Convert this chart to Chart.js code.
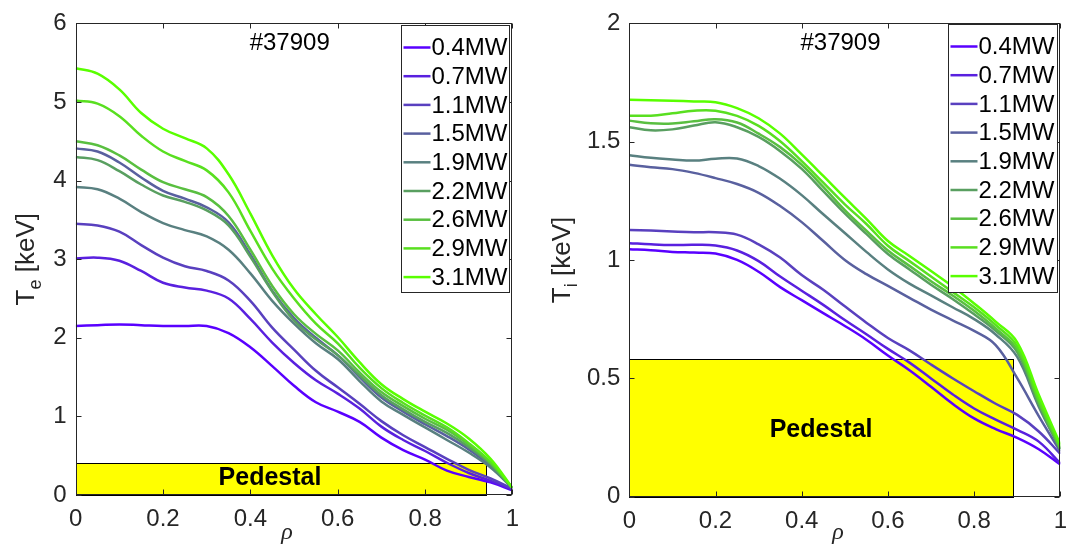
<!DOCTYPE html>
<html>
<head>
<meta charset="utf-8">
<title>Te / Ti profiles #37909</title>
<script src="https://cdn.jsdelivr.net/npm/chart.js@4.4.1/dist/chart.umd.min.js"></script>
<style>
  body { margin: 0; background: #fff; width: 1077px; height: 544px; position: relative; overflow: hidden; }
  canvas { position: absolute; top: 0; }
</style>
</head>
<body>
<canvas id="teChart" width="540" height="544" style="left:0"></canvas>
<canvas id="tiChart" width="537" height="544" style="left:540px"></canvas>
<script>
// normalised radius
const rho = [0, 0.05, 0.1, 0.15, 0.2, 0.25, 0.3, 0.35, 0.4, 0.45, 0.5, 0.55, 0.6, 0.65, 0.7, 0.75, 0.8, 0.85, 0.9, 0.95, 1];
const powerLabels = ['0.4MW', '0.7MW', '1.1MW', '1.5MW', '1.9MW', '2.2MW', '2.6MW', '2.9MW', '3.1MW'];

// electron temperature [keV]
const te04 = [2.15, 2.16, 2.17, 2.16, 2.15, 2.15, 2.15, 2.06, 1.88, 1.64, 1.39, 1.18, 1.06, 0.93, 0.73, 0.57, 0.45, 0.31, 0.23, 0.16, 0.06];
const te07 = [3.01, 3.02, 2.98, 2.85, 2.70, 2.64, 2.60, 2.50, 2.24, 1.94, 1.68, 1.46, 1.29, 1.10, 0.87, 0.70, 0.56, 0.41, 0.28, 0.18, 0.07];
const te11 = [3.45, 3.43, 3.35, 3.18, 3.02, 2.91, 2.85, 2.73, 2.47, 2.13, 1.85, 1.58, 1.37, 1.16, 0.94, 0.76, 0.61, 0.46, 0.32, 0.21, 0.08];
const te15 = [4.41, 4.37, 4.23, 4.04, 3.87, 3.77, 3.66, 3.47, 3.06, 2.60, 2.25, 2.00, 1.78, 1.50, 1.24, 1.06, 0.90, 0.75, 0.58, 0.37, 0.09];
const te19 = [3.92, 3.89, 3.77, 3.60, 3.46, 3.37, 3.29, 3.12, 2.82, 2.47, 2.18, 1.93, 1.73, 1.45, 1.19, 1.02, 0.86, 0.70, 0.54, 0.35, 0.09];
const te22 = [4.30, 4.26, 4.12, 3.95, 3.81, 3.73, 3.62, 3.43, 3.03, 2.59, 2.22, 1.98, 1.78, 1.52, 1.27, 1.09, 0.93, 0.79, 0.61, 0.39, 0.09];
const te26 = [4.50, 4.45, 4.32, 4.14, 3.98, 3.89, 3.79, 3.55, 3.12, 2.66, 2.30, 2.05, 1.84, 1.56, 1.31, 1.13, 0.97, 0.83, 0.64, 0.41, 0.09];
const te29 = [5.02, 4.98, 4.82, 4.57, 4.37, 4.25, 4.13, 3.85, 3.36, 2.88, 2.50, 2.18, 1.93, 1.62, 1.36, 1.17, 1.01, 0.86, 0.66, 0.42, 0.09];
const te31 = [5.43, 5.36, 5.16, 4.86, 4.66, 4.54, 4.41, 4.08, 3.58, 3.05, 2.62, 2.30, 2.01, 1.69, 1.41, 1.22, 1.06, 0.91, 0.72, 0.46, 0.09];

// ion temperature [keV]
const ti04 = [1.045, 1.041, 1.034, 1.031, 1.027, 1.000, 0.950, 0.885, 0.830, 0.775, 0.721, 0.663, 0.596, 0.534, 0.464, 0.392, 0.330, 0.285, 0.248, 0.200, 0.135];
const ti07 = [1.071, 1.066, 1.063, 1.064, 1.061, 1.040, 0.995, 0.930, 0.870, 0.810, 0.746, 0.686, 0.624, 0.566, 0.499, 0.432, 0.372, 0.325, 0.282, 0.232, 0.140];
const ti11 = [1.127, 1.124, 1.120, 1.117, 1.117, 1.107, 1.066, 1.010, 0.936, 0.874, 0.804, 0.735, 0.670, 0.618, 0.558, 0.500, 0.445, 0.392, 0.345, 0.275, 0.180];
const ti15 = [1.402, 1.392, 1.384, 1.368, 1.346, 1.321, 1.284, 1.228, 1.160, 1.080, 1.000, 0.940, 0.890, 0.840, 0.790, 0.745, 0.700, 0.640, 0.500, 0.340, 0.190];
const ti19 = [1.443, 1.432, 1.425, 1.420, 1.428, 1.429, 1.397, 1.343, 1.274, 1.193, 1.114, 1.034, 0.960, 0.900, 0.850, 0.800, 0.750, 0.685, 0.590, 0.380, 0.200];
const ti22 = [1.561, 1.548, 1.552, 1.568, 1.582, 1.561, 1.520, 1.460, 1.385, 1.291, 1.197, 1.110, 1.025, 0.960, 0.895, 0.835, 0.770, 0.700, 0.610, 0.390, 0.200];
const ti26 = [1.589, 1.578, 1.577, 1.586, 1.595, 1.581, 1.534, 1.477, 1.402, 1.309, 1.211, 1.124, 1.040, 0.975, 0.910, 0.850, 0.785, 0.710, 0.620, 0.400, 0.200];
const ti29 = [1.610, 1.610, 1.620, 1.631, 1.631, 1.609, 1.567, 1.502, 1.418, 1.327, 1.235, 1.152, 1.060, 0.995, 0.930, 0.865, 0.800, 0.725, 0.635, 0.410, 0.210];
const ti31 = [1.677, 1.675, 1.673, 1.670, 1.667, 1.642, 1.599, 1.534, 1.446, 1.355, 1.263, 1.174, 1.080, 1.017, 0.953, 0.888, 0.816, 0.739, 0.652, 0.430, 0.220];

// tick labels
const rhoTicks = [0, 0.2, 0.4, 0.6, 0.8, 1];
const teTicks = [0, 1, 2, 3, 4, 5, 6];
const tiTicks = [0, 0.5, 1, 1.5, 2];

const shotLabel = '#37909';
// pedestal region: [outer rho edge, top temperature]
const tePedestal = [0.94, 0.41];
const tiPedestal = [0.891, 0.582];

// violet -> lime as heating power goes up
const lineColors = ['#5900ff', '#5920df', '#5940bf', '#59609f', '#598080', '#599f60', '#59bf40', '#59df20', '#59ff00'];

const FONT = '"Liberation Sans", Arial, Helvetica, sans-serif';
const AXIS_GREY = '#262626';

const profileFrame = {
  id: 'profileFrame',
  beforeDatasetsDraw(chart, args, o) {
    const { ctx, scales: { x, y } } = chart;
    const x0 = Math.round(x.getPixelForValue(0));
    const x1 = Math.round(x.getPixelForValue(o.pedestal[0]));
    const y0 = Math.round(y.getPixelForValue(0));
    const y1 = Math.round(y.getPixelForValue(o.pedestal[1]));
    ctx.save();
    ctx.fillStyle = '#ffff00';
    ctx.fillRect(x0, y1, x1 - x0, y0 - y1);
    ctx.strokeStyle = '#000';
    ctx.lineWidth = 1;
    ctx.strokeRect(x0 + 0.5, y1 + 0.5, x1 - x0, y0 - y1);
    ctx.restore();
  },
  afterDatasetsDraw(chart, args, o) {
    const { ctx, chartArea: a, scales: { x, y } } = chart;
    ctx.save();

    // pedestal caption
    ctx.fillStyle = '#000';
    ctx.font = 'bold 25px ' + FONT;
    ctx.textAlign = 'center';
    ctx.textBaseline = 'middle';
    ctx.fillText('Pedestal', x.getPixelForValue(o.pedLabel[0]), y.getPixelForValue(o.pedLabel[1]));

    // shot number
    ctx.font = '24px ' + FONT;
    ctx.fillText(shotLabel, x.getPixelForValue(0.49), 43);

    // axes box with inward ticks on all four sides
    const L = Math.round(a.left) + 0.5, R = Math.round(a.right) - 0.5;
    const T = Math.round(a.top) + 0.5, B = Math.round(a.bottom) - 0.5;
    ctx.strokeStyle = AXIS_GREY;
    ctx.lineWidth = 1;
    ctx.strokeRect(L, T, R - L, B - T);
    ctx.beginPath();
    o.xTicks.forEach(v => {
      const px = Math.round(x.getPixelForValue(v)) + 0.5;
      ctx.moveTo(px, B); ctx.lineTo(px, B - 5);
      ctx.moveTo(px, T); ctx.lineTo(px, T + 5);
    });
    o.yTicks.forEach(v => {
      const py = Math.round(y.getPixelForValue(v)) + 0.5;
      ctx.moveTo(L, py); ctx.lineTo(L + 5, py);
      ctx.moveTo(R, py); ctx.lineTo(R - 5, py);
    });
    ctx.stroke();

    // legend
    const lg = o.legend;
    const lx = Math.round(a.right - lg.inset - lg.width) + 0.5;
    const ly = Math.round(a.top + lg.top) + 0.5;
    ctx.fillStyle = '#fff';
    ctx.fillRect(lx, ly, lg.width, lg.height);
    ctx.strokeStyle = AXIS_GREY;
    ctx.strokeRect(lx, ly, lg.width, lg.height);
    ctx.font = '24px ' + FONT;
    ctx.textAlign = 'left';
    chart.data.datasets.forEach((ds, i) => {
      const ry = ly + 22 + i * lg.rowGap;
      ctx.strokeStyle = ds.borderColor;
      ctx.lineWidth = 2.5;
      ctx.beginPath();
      ctx.moveTo(lx + 2, ry);
      ctx.lineTo(lx + 29, ry);
      ctx.stroke();
      ctx.fillStyle = '#000';
      ctx.fillText(ds.label, lx + 30, ry + 1);
    });

    // x title
    ctx.fillStyle = AXIS_GREY;
    ctx.font = 'italic 24px "Liberation Serif", "DejaVu Serif", serif';
    ctx.textAlign = 'center';
    ctx.fillText('ρ', x.getPixelForValue(0.484), 533);

    // y title with subscript
    const big = '26px ' + FONT, small = '18px ' + FONT;
    ctx.font = big;
    const w1 = ctx.measureText('T').width;
    const w3 = ctx.measureText(' [keV]').width;
    ctx.font = small;
    const w2 = ctx.measureText(o.sub).width;
    ctx.translate(o.titleX, (a.top + a.bottom) / 2);
    ctx.rotate(-Math.PI / 2);
    ctx.textAlign = 'left';
    ctx.textBaseline = 'alphabetic';
    let tx = -(w1 + w2 + w3) / 2;
    ctx.font = big; ctx.fillText('T', tx, 0);
    ctx.font = small; ctx.fillText(o.sub, tx + w1, 7);
    ctx.font = big; ctx.fillText(' [keV]', tx + w1 + w2, 0);

    ctx.restore();
  }
};

function profileChart(id, profiles, yMax, yTicks, frameOpts, geom) {
  const tickFont = { family: FONT, size: 24 };
  return new Chart(document.getElementById(id), {
    type: 'line',
    data: {
      datasets: profiles.map((vals, i) => ({
        label: powerLabels[i],
        data: rho.map((r, k) => ({ x: r, y: vals[k] })),
        borderColor: lineColors[i],
        borderWidth: 2.5,
        pointRadius: 0,
        fill: false,
        tension: 0.4,
        order: profiles.length - i
      }))
    },
    options: {
      responsive: false,
      animation: false,
      devicePixelRatio: 1,
      layout: { padding: geom.padding },
      scales: {
        x: {
          type: 'linear', min: 0, max: 1,
          afterBuildTicks: s => { s.ticks = rhoTicks.map(v => ({ value: v })); },
          afterFit: s => { s.height = geom.xHeight; },
          grid: { display: false, drawTicks: false },
          border: { display: false },
          ticks: { font: tickFont, color: AXIS_GREY, padding: 10, maxRotation: 0, autoSkip: false, callback: v => String(v) }
        },
        y: {
          type: 'linear', min: 0, max: yMax,
          afterBuildTicks: s => { s.ticks = yTicks.map(v => ({ value: v })); },
          afterFit: s => { s.width = geom.yWidth; },
          grid: { display: false, drawTicks: false },
          border: { display: false },
          ticks: { font: tickFont, color: AXIS_GREY, padding: 9, autoSkip: false, callback: v => String(v) }
        }
      },
      plugins: {
        legend: { display: false },
        tooltip: { enabled: false },
        profileFrame: Object.assign({ xTicks: rhoTicks, yTicks: yTicks }, frameOpts)
      }
    },
    plugins: [profileFrame]
  });
}

profileChart('teChart', [te04, te07, te11, te15, te19, te22, te26, te29, te31], 6, teTicks, {
  pedestal: tePedestal, pedLabel: [0.445, 0.22], sub: 'e', titleX: 34,
  legend: { inset: 3.4, top: 2, width: 108, height: 267, rowGap: 28.7 }
}, { padding: { left: 0, top: 15, right: 27.6, bottom: 0 }, yWidth: 75.7, xHeight: 49 });

profileChart('tiChart', [ti04, ti07, ti11, ti15, ti19, ti22, ti26, ti29, ti31], 2, tiTicks, {
  pedestal: tiPedestal, pedLabel: [0.445, 0.281], sub: 'i', titleX: 30,
  legend: { inset: 3, top: 1, width: 109, height: 268, rowGap: 28.7 }
}, { padding: { left: 0, top: 16.5, right: 10, bottom: 0 }, yWidth: 89.3, xHeight: 47.5 });
</script>
</body>
</html>
